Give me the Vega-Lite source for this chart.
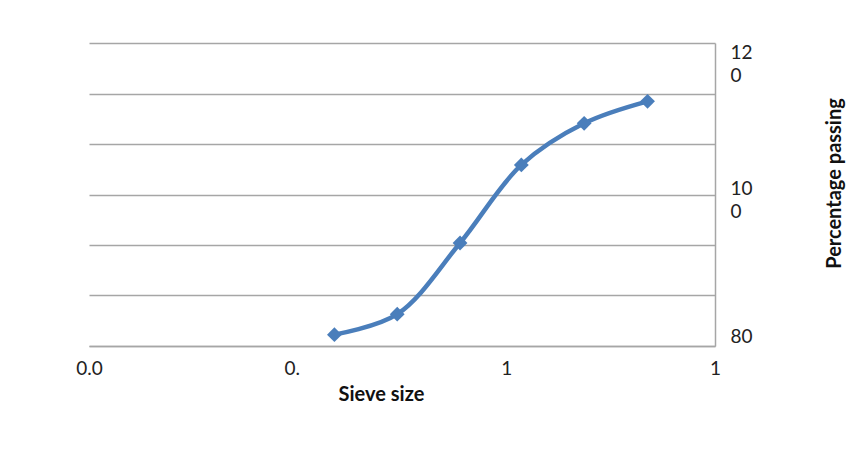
{
  "$schema": "https://vega.github.io/schema/vega-lite/v6.json",
  "width": 626,
  "height": 303,
  "autosize": {"type": "none"},
  "padding": {"left": 89, "top": 43, "right": 147, "bottom": 113},
  "background": "white",
  "data": {
    "values": [
      {"sieve": 0.15, "passing": 81.5},
      {"sieve": 0.3, "passing": 84.2},
      {"sieve": 0.6, "passing": 93.6},
      {"sieve": 1.18, "passing": 103.9},
      {"sieve": 2.36, "passing": 109.4},
      {"sieve": 4.75, "passing": 112.3}
    ]
  },
  "mark": {
    "type": "line",
    "interpolate": "catmull-rom",
    "color": "#4A7EBB",
    "strokeWidth": 4.5,
    "point": {"shape": "diamond", "size": 220, "filled": true, "color": "#4A7EBB", "opacity": 1}
  },
  "encoding": {
    "x": {
      "field": "sieve",
      "type": "quantitative",
      "scale": {"type": "log", "domain": [0.01, 10], "nice": false},
      "axis": {
        "orient": "bottom",
        "values": [0.01, 0.1, 1, 10],
        "labelExpr": "datum.value < 0.05 ? '0.0' : datum.value < 0.5 ? '0.' : '1'",
        "labelOffset": {"expr": "datum.value > 0.05 && datum.value < 0.5 ? -6 : 0"},
        "grid": false,
        "ticks": false,
        "domain": true,
        "domainColor": "#A6A6A6",
        "domainWidth": 1.5,
        "labelFlush": false,
        "labelOverlap": false,
        "labelPadding": 13,
        "labelFont": "Lato",
        "labelFontSize": 19,
        "labelColor": "#222222",
        "title": "Sieve size",
        "titleFont": "Lato",
        "titleFontSize": 20,
        "titleFontWeight": "bold",
        "titleColor": "#111111",
        "titlePadding": 6,
        "titleX": 292
      }
    },
    "y": {
      "field": "passing",
      "type": "quantitative",
      "scale": {"domain": [80, 120], "nice": false, "zero": false},
      "axis": {
        "orient": "right",
        "values": [80, 86.6667, 93.3333, 100, 106.6667, 113.3333, 120],
        "labelExpr": "datum.value == 80 ? '80' : datum.value == 100 ? ['10', '0'] : datum.value == 120 ? ['12', '0'] : ''",
        "grid": true,
        "gridColor": "#A6A6A6",
        "gridWidth": 1.5,
        "ticks": false,
        "domain": true,
        "domainColor": "#A6A6A6",
        "domainWidth": 1.5,
        "labelFlush": true,
        "labelBaseline": {"expr": "datum.value >= 119 ? 'top' : datum.value <= 81 ? 'bottom' : 'alphabetic'"},
        "labelOverlap": false,
        "labelAlign": "left",
        "labelPadding": 15,
        "labelLineHeight": 23,
        "labelFont": "Lato",
        "labelFontSize": 19,
        "labelColor": "#222222",
        "title": "Percentage passing",
        "titleAngle": 270,
        "titleFont": "Lato",
        "titleFontSize": 20,
        "titleFontWeight": "bold",
        "titleColor": "#111111",
        "titlePadding": 92,
        "titleY": 140
      }
    }
  },
  "config": {"view": {"stroke": null}}
}
